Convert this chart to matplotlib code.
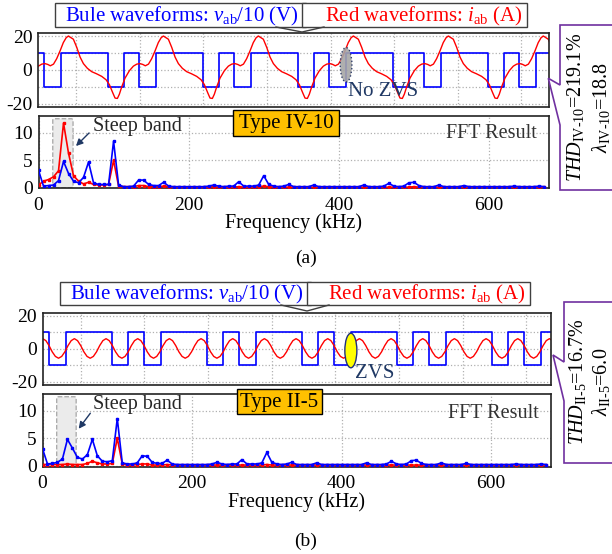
import numpy as np
import matplotlib.pyplot as plt
from matplotlib.patches import Rectangle, Ellipse, Polygon, FancyBboxPatch

plt.rcParams['font.family'] = ['Liberation Serif', 'DejaVu Serif']
plt.rcParams['mathtext.fontset'] = 'custom'
plt.rcParams['mathtext.rm'] = 'Liberation Serif'
plt.rcParams['mathtext.it'] = 'Liberation Serif:italic'

# ---------------- data ----------------
# square voltage v_ab/10: switching instants (us), level starts at +10
va_edges = [2.0, 7.2, 22.2, 27.2, 32.0, 37.2, 52.2, 57.2, 62.0, 67.2, 82.2, 87.2,
            92.0, 97.2, 112.2, 117.2, 122.0, 127.2, 142.2, 147.2, 152.0, 157.2]
vb_edges = [2.1, 7.2, 21.9, 27.0, 32.0, 37.2, 51.9, 57.0, 62.0, 67.2, 81.9, 87.0,
            92.0, 97.2, 111.9, 117.0, 122.0, 127.2, 141.9, 147.0, 152.0, 157.2]
v_level = 10

# current i_ab over one switching period (30 us), time from the peak
ia_t = [0, 1.58, 2.63, 3.69, 4.74, 6.0, 7.37, 8.95, 10.53, 11.9, 12.95, 14.0, 14.74,
        15.48, 16.1, 16.85, 17.9, 19.27, 20.53, 21.6, 22.6, 23.5, 24.3, 25.3, 26.3,
        27.4, 28.4, 29.3, 30.0]
ia_v = [20.2, 18.3, 13.5, 7.7, 3.8, 1.0, -1.0, -2.3, -3.8, -5.8, -8.7, -13.5, -16.7,
        -16.9, -14.4, -10.0, -4.8, -0.4, 2.3, 3.5, 3.8, 3.3, 2.5, 3.5, 6.7, 11.5, 16.3,
        19.2, 20.2]
ia_peak0 = 9.6
# current for type II-5, one 10 us cycle
ib_t = [0, 1, 2, 3, 4, 5, 6, 7, 8, 9, 10]
ib_v = [6.2, 5.0, 2.0, -1.8, -4.6, -5.7, -4.6, -1.8, 2.0, 5.0, 6.2]
ib_peak0 = 0.0

# FFT magnitudes, bins every 6.67 kHz
fft_df = 20 / 3
fa_blue = [3.2, 0.3, 0.4, 0.5, 1.3, 4.8, 2.6, 1.2, 0.9, 1.9, 4.7, 0.9, 0.6, 0.6, 0.6,
           8.5, 0.5, 0.2, 0.2, 0.3, 1.4, 1.4, 0.6, 0.4, 0.4, 1.0, 0.3, 0.2, 0.2, 0.2,
           0.2, 0.2, 0.2, 0.2, 0.3, 0.5, 0.3, 0.2, 0.3, 0.3, 1.1, 0.3, 0.3, 0.3, 0.5,
           2.2, 0.6, 0.3, 0.2, 0.3, 0.6, 0.2, 0.2, 0.2, 0.2, 0.5, 0.2, 0.2, 0.2, 0.2,
           0.2, 0.2, 0.2, 0.2, 0.2, 0.5, 0.2, 0.2, 0.2, 0.3, 0.8, 0.3, 0.2, 0.3, 0.9,
           1.0, 0.4, 0.2, 0.2, 0.2, 0.5, 0.2, 0.2, 0.2, 0.2, 0.4, 0.2, 0.2, 0.2, 0.2,
           0.2, 0.2, 0.2, 0.2, 0.2, 0.3, 0.2, 0.2, 0.2, 0.2, 0.3, 0.2]
fa_red = [0.5, 1.2, 1.5, 2.0, 3.1, 11.8, 6.3, 2.2, 1.2, 0.7, 1.0, 0.6, 0.5, 0.5, 0.6,
          5.0, 0.3, 0.2, 0.2, 0.2, 0.4, 0.4, 0.2, 0.2, 0.2, 0.3, 0.2, 0.1, 0.1, 0.1,
          0.1, 0.1, 0.1, 0.1, 0.1, 0.2, 0.1, 0.1, 0.1, 0.1, 0.2, 0.1, 0.1, 0.1, 0.2,
          0.3, 0.2, 0.1, 0.1, 0.1, 0.1, 0.1, 0.1, 0.1, 0.1, 0.1, 0.1, 0.1, 0.1, 0.1,
          0.1, 0.1, 0.1, 0.1, 0.1, 0.1, 0.1, 0.1, 0.1, 0.1, 0.1, 0.1, 0.1, 0.1, 0.1,
          0.2, 0.1, 0.1, 0.1, 0.1, 0.1, 0.1, 0.1, 0.1, 0.1, 0.1, 0.1, 0.1, 0.1, 0.1,
          0.1, 0.1, 0.1, 0.1, 0.1, 0.1, 0.1, 0.1, 0.1, 0.1, 0.1, 0.1]
fb_blue = [3.1, 0.3, 0.4, 0.6, 1.2, 4.8, 3.2, 1.5, 1.2, 2.0, 4.8, 1.8, 0.8, 0.7, 0.9,
           8.6, 0.5, 0.3, 0.3, 0.5, 1.8, 1.7, 0.6, 0.4, 0.4, 1.0, 0.3, 0.2, 0.2, 0.2,
           0.2, 0.2, 0.2, 0.2, 0.3, 0.6, 0.3, 0.2, 0.3, 0.3, 1.1, 0.3, 0.3, 0.3, 0.5,
           2.4, 0.6, 0.3, 0.2, 0.3, 0.6, 0.2, 0.2, 0.2, 0.2, 0.5, 0.2, 0.2, 0.2, 0.2,
           0.2, 0.2, 0.2, 0.2, 0.2, 0.5, 0.2, 0.2, 0.2, 0.3, 0.8, 0.3, 0.2, 0.3, 0.9,
           1.0, 0.4, 0.2, 0.2, 0.2, 0.5, 0.2, 0.2, 0.2, 0.2, 0.4, 0.2, 0.2, 0.2, 0.2,
           0.2, 0.2, 0.2, 0.2, 0.2, 0.3, 0.2, 0.2, 0.2, 0.2, 0.3, 0.2]
fb_red = [0.2, 0.2, 0.2, 0.2, 0.2, 0.3, 0.2, 0.2, 0.2, 0.4, 0.8, 0.5, 0.3, 0.3, 0.4,
          5.0, 0.3, 0.1, 0.1, 0.2, 0.3, 0.3, 0.1, 0.1, 0.1, 0.2, 0.1, 0.1, 0.1, 0.1,
          0.1, 0.1, 0.1, 0.1, 0.1, 0.1, 0.1, 0.1, 0.1, 0.1, 0.1, 0.1, 0.1, 0.1, 0.1,
          0.2, 0.1, 0.1, 0.1, 0.1, 0.1, 0.1, 0.1, 0.1, 0.1, 0.1, 0.1, 0.1, 0.1, 0.1,
          0.1, 0.1, 0.1, 0.1, 0.1, 0.1, 0.1, 0.1, 0.1, 0.1, 0.1, 0.1, 0.1, 0.1, 0.1,
          0.1, 0.1, 0.1, 0.1, 0.1, 0.1, 0.1, 0.1, 0.1, 0.1, 0.1, 0.1, 0.1, 0.1, 0.1,
          0.1, 0.1, 0.1, 0.1, 0.1, 0.1, 0.1, 0.1, 0.1, 0.1, 0.1, 0.1]

freq_ticks = [0, 200, 400, 600]

# ---------------- figure ----------------
W, H = 612, 554
fig = plt.figure(figsize=(W / 100, H / 100), dpi=100)


def px_axes(l, t, r, b):
    return fig.add_axes([l / W, 1 - b / H, (r - l) / W, (b - t) / H])


def style(ax):
    for s in ax.spines.values():
        s.set_linewidth(1.2)
        s.set_color('#222222')
    ax.tick_params(length=0, labelsize=14, pad=4)
    ax.grid(True, ls=':', color='#b0b0b0', lw=0.9)
    ax.set_axisbelow(True)


def wave_panel(box, edges, tmax, i_t, i_v, i_peak0, period):
    ax = px_axes(*box)
    style(ax)
    xs = [0] + list(edges) + [tmax]
    lv = [v_level * (-1) ** k for k in range(len(edges) + 1)]
    ax.step(xs, lv + [lv[-1]], where='post', color='#0000ff', lw=1.2)
    # current: the read period, repeated over the window
    tt, vv = [], []
    k = -1
    while i_peak0 + k * period < tmax:
        tt += [i_peak0 + k * period + a for a in i_t]
        vv += i_v
        k += 1
    ax.plot(tt, vv, color='#ff0000', lw=1.0)
    ax.set_xlim(0, tmax)
    ax.set_ylim(-22, 22)
    ax.set_xticks(np.arange(12, tmax, 20.1))
    ax.set_xticklabels([])
    ax.set_yticks([-20, -10, 0, 10, 20])
    ax.set_yticklabels(['-20', '', '0', '', '20'])
    return ax


def fft_panel(box, blue, red, ylo, band):
    ax = px_axes(*box)
    style(ax)
    ax.add_patch(FancyBboxPatch((band[0], band[2]), band[1] - band[0], band[3] - band[2],
                                boxstyle='round,pad=0,rounding_size=2.5',
                                mutation_aspect=0.12, facecolor='#ebebeb',
                                edgecolor='#a6a6a6', ls='--', lw=0.9, zorder=1))
    f = np.arange(len(blue)) * fft_df
    ax.plot(f, red, color='#ff0000', lw=1.2, marker='s', ms=2, zorder=3)
    ax.plot(f, blue, color='#0000ff', lw=1.2, marker='s', ms=2, zorder=4)
    ax.set_xlim(0, 680)
    ax.set_ylim(ylo, 13.1)
    ax.set_xticks(freq_ticks)
    ax.set_yticks([0, 5, 10])
    ax.tick_params(axis='x', pad=6)
    ax.set_xlabel('Frequency (kHz)', fontsize=14.5, labelpad=0)
    return ax


ax1 = wave_panel((38, 33, 549, 107), va_edges, 161.4, ia_t, ia_v, ia_peak0, 30)
ax2 = fft_panel((38.5, 116, 549, 188.3), fa_blue, fa_red, -0.1, (19, 46, 0.0, 12.6))
ax3 = wave_panel((42.7, 312.7, 550.7, 385), vb_edges, 160.4, ib_t, ib_v, ib_peak0, 10)
ax4 = fft_panel((42.5, 394, 551, 466.7), fb_blue, fb_red, -0.2, (19, 45, -0.1, 12.6))

# ZVS marks
ax1.add_patch(Ellipse((97.3, 3.1), 3.7, 20.6, facecolor='#a6a6a6', edgecolor='#1f2f5f',
                      ls=':', lw=1, alpha=0.9, zorder=5))
ax3.add_patch(Ellipse((97.3, -1.0), 3.8, 21, facecolor='#ffff00', edgecolor='#1f2f7f',
                      lw=1, zorder=5))

# overlay in pixel coordinates
ov = fig.add_axes([0, 0, 1, 1])
ov.set_xlim(0, W)
ov.set_ylim(H, 0)
ov.axis('off')

navy = '#1f3864'


def callouts(y0, y1, xl, xm, xr, ytip):
    ov.add_patch(Rectangle((xl, y0), xm - xl, y1 - y0, facecolor='white',
                           edgecolor='#404040', lw=1))
    ov.add_patch(Rectangle((xm - 4, y0), xr - xm + 4, y1 - y0, facecolor='white',
                           edgecolor='#404040', lw=1))
    ov.plot([xm - 30, xm - 4, xm + 18], [y1, ytip, y1], color='#404040', lw=1)


for (y0, y1, xl, xr, ytip) in [(3, 27, 55, 527, 32), (282, 305, 60, 530, 311)]:
    callouts(y0, y1, xl, 306 + (xl - 55), xr, ytip)
    ov.text(xl + 10, (y0 + y1) / 2 + 1, r'Bule waveforms: $v_{\mathrm{ab}}$/10 (V)',
            color='#0000ff', fontsize=15, va='center', ha='left')
    ov.text(xr - 4, (y0 + y1) / 2 + 1, r'Red waveforms: $i_{\mathrm{ab}}$ (A)',
            color='#ff0000', fontsize=15, va='center', ha='right')

# THD boxes
ov.add_patch(Polygon([(615, 25), (560, 25), (560, 85), (548.3, 78.3), (560, 125),
                      (560, 190), (615, 190)], closed=True, facecolor='white',
                     edgecolor='#7030a0', lw=1.2, clip_on=False))
ov.add_patch(Polygon([(615, 302), (564, 302), (564, 362), (553, 355), (564, 401),
                      (564, 463), (615, 463)], closed=True, facecolor='white',
                     edgecolor='#7030a0', lw=1.2, clip_on=False))
ov.text(576, 107, r'$\mathit{THD}_{\mathrm{IV\text{-}10}}$=219.1%', rotation=90,
        fontsize=14.5, ha='center', va='center')
ov.text(601, 107, r'$\lambda_{\mathrm{IV\text{-}10}}$=18.8', rotation=90,
        fontsize=14.5, ha='center', va='center')
ov.text(577, 382, r'$\mathit{THD}_{\mathrm{II\text{-}5}}$=16.7%', rotation=90,
        fontsize=14.5, ha='center', va='center')
ov.text(601, 382, r'$\lambda_{\mathrm{II\text{-}5}}$=6.0', rotation=90,
        fontsize=14.5, ha='center', va='center')

# type labels
ov.add_patch(Rectangle((233, 110), 106, 26, facecolor='#ffc000', edgecolor='black', lw=1))
ov.text(286, 123.5, 'Type IV-10', fontsize=15, ha='center', va='center')
ov.add_patch(Rectangle((237, 389), 85, 25, facecolor='#ffc000', edgecolor='black', lw=1))
ov.text(279.5, 402, 'Type II-5', fontsize=15, ha='center', va='center')

# FFT result labels
ov.text(537, 133, 'FFT Result', fontsize=14.5, ha='right', va='center', color='#333333')
ov.text(539, 413, 'FFT Result', fontsize=14.5, ha='right', va='center', color='#333333')

# steep band labels
ov.text(93, 126, 'Steep band', fontsize=14.5, ha='left', va='center', color='#262626')
ov.text(93, 404, 'Steep band', fontsize=14.5, ha='left', va='center', color='#262626')
ov.annotate('', xy=(74, 148), xytext=(91, 131),
            arrowprops=dict(arrowstyle='-|>', color=navy, lw=1, mutation_scale=10))
ov.annotate('', xy=(77, 431), xytext=(92, 411),
            arrowprops=dict(arrowstyle='-|>', color=navy, lw=1, mutation_scale=10))

# ZVS text
ov.text(348, 92, 'No ZVS', fontsize=15, color=navy, ha='left', va='center')
ov.text(355, 373, 'ZVS', fontsize=15, color=navy, ha='left', va='center')

# panel labels
ov.text(306, 258, '(a)', fontsize=14, ha='center', va='center')
ov.text(306, 541, '(b)', fontsize=14, ha='center', va='center')

fig.savefig('out.png', dpi=100)
